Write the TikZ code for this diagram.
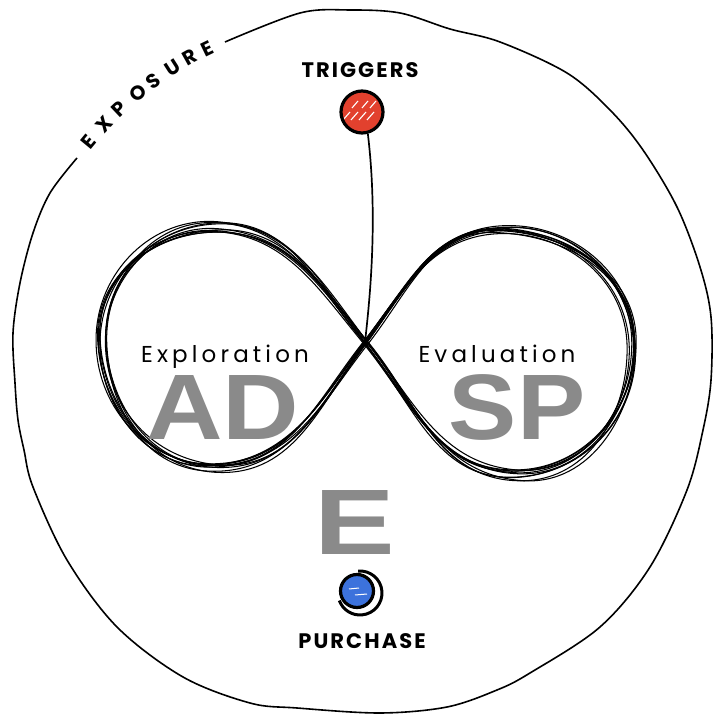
\documentclass[tikz,border=0pt]{standalone}
\usepackage{fontspec}
\setmainfont{Liberation Sans}
\newfontfamily\capsfont[LetterSpace=10]{Poppins}
\newfontfamily\lblfont[LetterSpace=18]{Poppins}
\newfontfamily\bigfont{Liberation Sans}
\usetikzlibrary{calc}
\definecolor{dotred}{HTML}{E2412E}
\definecolor{dotblue}{HTML}{3C72DC}
\definecolor{biggray}{HTML}{8A8A8A}
\begin{document}
\begin{tikzpicture}[x=1pt,y=1pt,
  outline/.style={line width=1.6pt, black},
  scrib/.style={line width=1.05pt, black},
  capl/.style={font=\capsfont\bfseries\fontsize{21}{21}\selectfont, inner sep=0pt, text height=15pt, text depth=0pt},
  expo/.style={font=\capsfont\bfseries\fontsize{20}{20}\selectfont, inner sep=0pt, text height=13pt, text depth=0pt, text width=11pt, align=center},
  lbl/.style={font=\lblfont\fontsize{23}{23}\selectfont, inner sep=0pt, text height=17pt, text depth=5pt},
  big/.style={font=\bigfont\bfseries\fontsize{93}{93}\selectfont, text=biggray, inner sep=0pt, text height=66pt, text depth=0pt},
  stem/.style={line width=1.7pt, black}]
\useasboundingbox (0,0) rectangle (713,718);
\fill[white] (0,0) rectangle (713,718);

% outer hand-drawn boundary (open where EXPOSURE sits)
\draw[outline] plot[smooth, tension=0.55] coordinates {
 (77,560) (50,525) (33,485) (20,435) (13,385) (15,335) (18,298) (24,268) (33,231)
 (67,158) (117,91) (183,41) (250,15) (297,10) (380,5) (447,11) (497,28) (530,45)
 (600,91) (650,151) (687,228) (703,288) (711,338) (711,401) (700,451) (677,511)
 (643,568) (610,608) (567,645) (500,676) (450,689) (400,705) (350,708) (300,705) (225,676)};

% EXPOSURE along the arc
\foreach \l/\ang [count=\k] in {E/140.5, X/137.0, P/133.3, O/129.6, S/126.2, U/122.5, R/119.2, E/115.8}
  \node[expo, rotate=\ang-90] (ex\k) at ($(360,353)+(\ang:351)$) {\l};

% crossing point of the infinity loop
\coordinate (C) at (365,376);

% scribbled infinity
\pgfmathsetseed{11}
\foreach \i in {1,...,10}{
  \pgfmathsetmacro\rA{rand*6}\pgfmathsetmacro\rB{rand*6}
  \pgfmathsetmacro\rC{rand*6}\pgfmathsetmacro\rD{rand*6}
  \pgfmathsetmacro\rE{rand*6}\pgfmathsetmacro\rF{rand*6}
  \pgfmathsetmacro\rG{rand*6}\pgfmathsetmacro\rH{rand*6}
  \pgfmathsetmacro\rI{rand*6}\pgfmathsetmacro\rJ{rand*6}
  \pgfmathsetmacro\rK{rand*6}\pgfmathsetmacro\rL{rand*6}
  \pgfmathsetmacro\rM{rand*5}\pgfmathsetmacro\rN{rand*5}
  \pgfmathsetmacro\rO{rand*3}\pgfmathsetmacro\rP{rand*3}
  \draw[scrib] ($(C)+(\rO,\rP)$)
    to[out=52+\rM,in=180+\rN] (500+\rA,490+\rB)
    to[out=\rN,in=90+\rM] (633+\rC,372+\rD)
    to[out=-90+\rM,in=\rN] (517+\rE,243+\rF)
    to[out=180+\rN,in=-52+\rM] ($(C)+(\rP,\rO)$)
    to[out=128+\rM,in=\rN] (213+\rG,491+\rH)
    to[out=180+\rN,in=90+\rM] (102+\rI,380+\rJ)
    to[out=-90+\rM,in=180+\rN] (213+\rK,251+\rL)
    to[out=\rN,in=-128+\rM] ($(C)+(\rO,\rP)$);
}

% triggers dot
\node[circle, draw, line width=3.2pt, fill=dotred, minimum size=42pt, inner sep=0pt] (trig) at (362,606) {};
\begin{scope}
  \clip (trig.center) circle (19);
  \foreach \s in {-14,-6,2,10}
    \draw[white, line width=1.1pt] ($(trig.center)+(\s-5,-8)$) -- ++(7,8);
  \foreach \s in {-10,0,8}
    \draw[white, line width=1.1pt] ($(trig.center)+(\s,4)$) -- ++(6,7);
\end{scope}
\node[capl] (trigL) at (360,648) {TRIGGERS};

% stem from triggers to the crossing
\draw[stem] (trig.-75) .. controls (378,500) and (370,420) .. (C);

% purchase dot
\node[circle, draw, line width=3.2pt, fill=dotblue, minimum size=33pt, inner sep=0pt] (purch) at (357,127) {};
\begin{scope}
  \clip (purch.center) circle (14);
  \draw[white, line width=1pt] ($(purch.center)+(-8,2)$) -- ++(10,1);
  \draw[white, line width=1pt] ($(purch.center)+(-2,-4)$) -- ++(12,1);
\end{scope}
\draw[line width=3pt] ($(purch.center)+(3,-2)$) ++(95:22) arc (95:-160:22);
\node[capl] (purL) at (362,77) {PURCHASE};

% labels
\node[lbl, anchor=base] (expl) at (225,355) {Exploration};
\node[lbl, anchor=base] (eval) at (497,355) {Evaluation};
\node[big, anchor=base] (ad) at (223,278) {\scalebox{1.14}[1]{AD}};
\node[big, anchor=base] (sp) at (517,278) {\scalebox{1.1}[1]{SP}};
\node[big, anchor=base] (ee) at (355,163) {\scalebox{1.3}[1]{E}};
\end{tikzpicture}
\end{document}
